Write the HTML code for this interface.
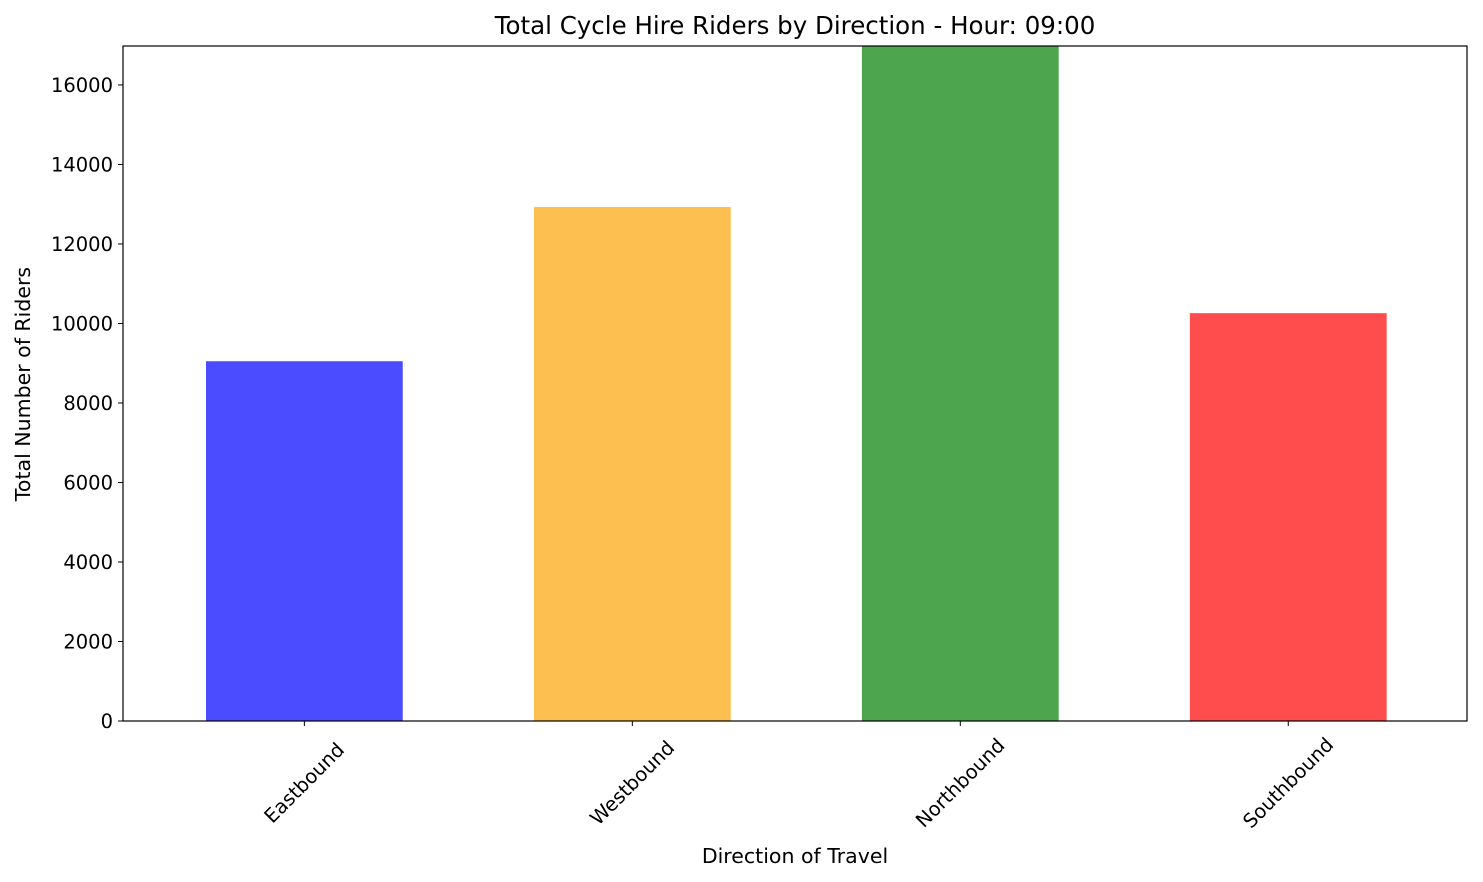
<!DOCTYPE html>
<html><head><meta charset="utf-8"><style>
body{margin:0;background:#fff;}
svg{display:block;font-family:"DejaVu Sans","Liberation Sans",sans-serif;}
</style></head><body>
<svg id="chart" width="1483" height="882"></svg>
<script>
const categories = ["Eastbound","Westbound","Northbound","Southbound"];
const values = [9050, 12930, 16980, 10260];
const colors = ["#4b4bff","#fdbf50","#4da64d","#ff4d4d"];
const yTicks = [0,2000,4000,6000,8000,10000,12000,14000,16000];

const L=123,R=1467,T=46,B=721;
const yMax=16980;
const xMin=-0.553,xMax=3.545;
const sx=v=>L+(v-xMin)/(xMax-xMin)*(R-L);
const sy=v=>B-v/yMax*(B-T);
const NS="http://www.w3.org/2000/svg";
const svg=document.getElementById('chart');
function mk(tag,attrs,parent){const e=document.createElementNS(NS,tag);for(const k in attrs)e.setAttribute(k,attrs[k]);(parent||svg).appendChild(e);return e;}

categories.forEach((c,i)=>{
  const x0=sx(i-0.3),x1=sx(i+0.3);
  const r=mk('rect',{x:x0,y:sy(values[i]),width:x1-x0,height:sy(0)-sy(values[i]),fill:colors[i]});
  
  
  const cx=sx(i);
  const tk=mk('line',{x1:cx,x2:cx,y1:B,y2:B+5,stroke:'#000','stroke-width':1});
  
  
  const cy=783;
  const t=mk('text',{x:cx,y:cy,'font-size':19.5,'text-anchor':'middle','dominant-baseline':'central',transform:`rotate(-45 ${cx} ${cy})`});
  t.textContent=c;
  
  
});
yTicks.forEach(v=>{
  const y=sy(v);
  const tk=mk('line',{x1:L-5,x2:L,y1:y,y2:y,stroke:'#000','stroke-width':1});
  
  
  const t=mk('text',{x:L-10,y:y+7,'font-size':19.5,'text-anchor':'end'});
  t.textContent=v;
  
  
});
const frame=mk('rect',{x:L,y:T,width:R-L,height:B-T,fill:'none',stroke:'#000','stroke-width':1.2});


const title=mk('text',{x:(L+R)/2,y:34,'font-size':24.5,'text-anchor':'middle'});
title.textContent='Total Cycle Hire Riders by Direction - Hour: 09:00';


const xt=mk('text',{x:(L+R)/2,y:863,'font-size':20.5,'text-anchor':'middle'});
xt.textContent='Direction of Travel';


const yt=mk('text',{x:30,y:384,'font-size':20.5,'text-anchor':'middle',transform:`rotate(-90 30 384)`});
yt.textContent='Total Number of Riders';


</script>
</body></html>
